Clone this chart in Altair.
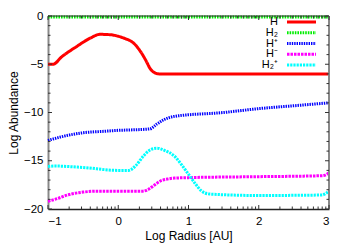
import altair as alt
import pandas as pd
import numpy as np

# ---- data ----
names = ["H", "H2", "H+", "H-", "H2+"]
labels = ["H", "H\u2082", "H\u207a", "H\u207b", "H\u2082\u207a"]
colors = ["#ff0000", "#00ee00", "#0000ff", "#ff00ff", "#00ffff"]
dashes = [[1, 0], [1.6, 1.0], [1.4, 1.0], [2.5, 1.0], [2.2, 1.0]]

h_x = [-1, -0.93, -0.8, -0.6, -0.4, -0.26, -0.1, 0, 0.1, 0.2, 0.3, 0.4, 0.45, 0.5, 0.58, 1, 2, 3]
h_y = [-5, -5, -4.2, -3.2, -2.3, -1.9, -1.95, -2.1, -2.35, -2.7, -3.5, -4.7, -5.4, -5.8, -6.0, -6, -6, -6]

h2_x = [-1, 0, 1, 2, 3]
h2_y = [-0.1, -0.1, -0.1, -0.1, -0.1]

hp_x = [-1, -0.8, -0.5, -0.2, 0, 0.2, 0.45, 0.55, 0.65, 0.8, 1.5, 2, 2.5, 3]
hp_y = [-12.9, -12.5, -12.1, -11.95, -11.85, -11.8, -11.7, -11.2, -10.75, -10.4, -10.0, -9.6, -9.3, -9.0]

hm_x = [-1, -0.9, -0.7, -0.5, -0.3, 0, 0.2, 0.35, 0.42, 0.5, 0.6, 0.7, 0.8, 1, 2, 2.9, 2.97, 3]
hm_y = [-19.2, -19.0, -18.5, -18.25, -18.15, -18.15, -18.15, -18.15, -18.0, -17.6, -17.1, -16.9, -16.8, -16.75, -16.65, -16.55, -16.4, -16.2]

h2p_x = [-1, -0.9, -0.5, 0, 0.15, 0.25, 0.36, 0.45, 0.55, 0.65, 0.81, 0.9, 1.0, 1.1, 1.18, 1.3, 2, 2.9, 2.95, 3]
h2p_y = [-15.6, -15.55, -15.7, -16.0, -16.0, -15.5, -14.5, -13.9, -13.7, -13.9, -14.6, -15.4, -16.4, -17.4, -18.1, -18.45, -18.6, -18.55, -18.4, -18.15]

x_major = [-1, 0, 1, 2, 3]
y_major = [-20, -15, -10, -5, 0]
x_minor = [d + np.log10(k) for d in range(-1, 3) for k in range(2, 10)]
y_minor = [v for v in range(-20, 1) if v % 5 != 0]

W, H = 281, 193
FONT = "Liberation Sans"

series = [(names[0], h_x, h_y), (names[1], h2_x, h2_y), (names[2], hp_x, hp_y),
          (names[3], hm_x, hm_y), (names[4], h2p_x, h2p_y)]
rows = []
for n, xs, ys in series:
    for a, b in zip(xs, ys):
        rows.append({"series": n, "x": a, "y": b})
df = pd.DataFrame(rows)

xs_ = alt.Scale(domain=[-1, 3], nice=False, zero=False)
ys_ = alt.Scale(domain=[-20, 0], nice=False, zero=False)
col = alt.Scale(domain=names, range=colors)
dsh = alt.Scale(domain=names, range=dashes)

lines = alt.Chart(df).mark_line(strokeWidth=3, interpolate="monotone", clip=False).encode(
    x=alt.X("x:Q", scale=xs_, axis=alt.Axis(values=x_major, title="Log Radius [AU]", format="d",
                                            ticks=False, tickSize=0, domain=True,
                                            domainColor="#222", domainWidth=1.5,
                                            labelPadding=6, titlePadding=4, grid=False)),
    y=alt.Y("y:Q", scale=ys_, axis=alt.Axis(values=y_major, title="Log Abundance", format="d",
                                            ticks=False, tickSize=0, domain=True,
                                            domainColor="#888", domainWidth=2,
                                            labelPadding=5, titlePadding=3, grid=False)),
    color=alt.Color("series:N", scale=col, legend=None),
    strokeDash=alt.StrokeDash("series:N", scale=dsh, legend=None),
    detail="series:N",
)

# frame: top and right
top = alt.Chart(pd.DataFrame({"a": [0]})).mark_rule(color="#222", strokeWidth=1.2).encode(
    x=alt.value(0), x2=alt.value(W), y=alt.value(0))
right = alt.Chart(pd.DataFrame({"a": [0]})).mark_rule(color="#888", strokeWidth=2).encode(
    x=alt.value(W), y=alt.value(0), y2=alt.value(H))

def xticks(vals, L):
    d = pd.DataFrame({"v": vals})
    b = alt.Chart(d).mark_rule(color="#333", strokeWidth=1).encode(
        x=alt.X("v:Q", scale=xs_, axis=None), y=alt.value(H), y2=alt.value(H - L))
    t = alt.Chart(d).mark_rule(color="#333", strokeWidth=1).encode(
        x=alt.X("v:Q", scale=xs_, axis=None), y=alt.value(0), y2=alt.value(L))
    return [b, t]

def yticks(vals, L):
    d = pd.DataFrame({"v": vals})
    l = alt.Chart(d).mark_rule(color="#333", strokeWidth=1).encode(
        y=alt.Y("v:Q", scale=ys_, axis=None), x=alt.value(0), x2=alt.value(L))
    r = alt.Chart(d).mark_rule(color="#333", strokeWidth=1).encode(
        y=alt.Y("v:Q", scale=ys_, axis=None), x=alt.value(W), x2=alt.value(W - L))
    return [l, r]

ticks = xticks(x_major, 4) + xticks(x_minor, 2.5) + yticks(y_major, 4) + yticks(y_minor, 2.5)

leg = pd.DataFrame({"series": names, "label": labels})
ly = alt.Y("series:N", scale=alt.Scale(type="point", domain=names, range=[6, 49], padding=0), axis=None)
leg_lines = alt.Chart(leg).mark_rule(strokeWidth=3).encode(
    x=alt.value(239), x2=alt.value(268), y=ly,
    color=alt.Color("series:N", scale=col, legend=None),
    strokeDash=alt.StrokeDash("series:N", scale=dsh, legend=None),
)
leg_text = alt.Chart(leg).mark_text(align="right", baseline="middle", font=FONT,
                                    fontSize=11, color="black").encode(
    x=alt.value(230), y=ly, text="label:N")

chart = alt.layer(lines, top, right, *ticks, leg_lines, leg_text).resolve_scale(
    y="independent"
).resolve_axis(x="independent", y="independent").properties(
    width=W, height=H,
    autosize=alt.AutoSizeParams(type="none"),
    padding={"left": 40, "top": 8, "right": 13, "bottom": 36},
).configure_view(stroke=None).configure_axis(
    labelFont=FONT, labelFontSize=11.5, labelColor="black",
    titleFont=FONT, titleFontSize=12, titleFontWeight="normal", titleColor="black",
)

chart.save("out.html", embed_options={"renderer": "svg", "actions": False})
